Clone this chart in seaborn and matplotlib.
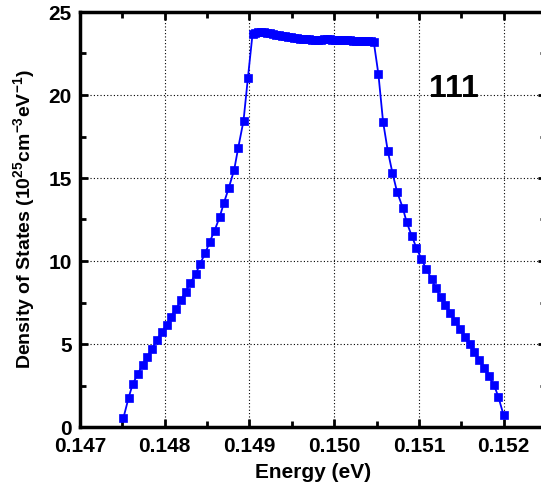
import matplotlib
matplotlib.use("Agg")
import matplotlib.pyplot as plt
import seaborn as sns
import numpy as np
import pandas as pd
from matplotlib.ticker import MultipleLocator

# ---- data ----
energy_rise = [0.147511, 0.147574, 0.147621, 0.147680, 0.147739, 0.147794, 0.147853,
               0.147908, 0.147963, 0.148022, 0.148073, 0.148136, 0.148195, 0.148246,
               0.148301, 0.148368, 0.148415, 0.148478, 0.148529, 0.148588, 0.148647,
               0.148698, 0.148757, 0.148820, 0.148867, 0.148930, 0.148981]
dos_rise = [0.52, 1.77, 2.57, 3.17, 3.75, 4.24, 4.72, 5.24, 5.70, 6.16, 6.64, 7.13,
            7.65, 8.15, 8.67, 9.23, 9.82, 10.46, 11.13, 11.83, 12.63, 13.49, 14.42,
            15.50, 16.81, 18.45, 21.0]

energy_plateau = [0.149036, 0.149070, 0.149105, 0.149140, 0.149175, 0.149210, 0.149245,
                  0.149280, 0.149315, 0.149350, 0.149385, 0.149420, 0.149455, 0.149490,
                  0.149525, 0.149560, 0.149595, 0.149630, 0.149665, 0.149700, 0.149735,
                  0.149770, 0.149805, 0.149840, 0.149875, 0.149910, 0.149945, 0.149980,
                  0.150015, 0.150050, 0.150085, 0.150120, 0.150155, 0.150190, 0.150225,
                  0.150260, 0.150295, 0.150330, 0.150365, 0.150400, 0.150435, 0.150467]
dos_plateau = [23.65, 23.76, 23.80, 23.80, 23.78, 23.75, 23.71, 23.67, 23.63, 23.60,
               23.56, 23.53, 23.50, 23.47, 23.44, 23.42, 23.40, 23.38, 23.36, 23.35,
               23.34, 23.34, 23.34, 23.34, 23.35, 23.35, 23.35, 23.34, 23.34, 23.33,
               23.32, 23.31, 23.30, 23.29, 23.28, 23.28, 23.27, 23.27, 23.26, 23.25,
               23.24, 23.21]

energy_fall = [0.150522, 0.150577, 0.150632, 0.150687, 0.150742, 0.150809, 0.150856,
               0.150915, 0.150970, 0.151029, 0.151088, 0.151151, 0.151198, 0.151260,
               0.151312, 0.151371, 0.151426, 0.151485, 0.151540, 0.151599, 0.151650,
               0.151713, 0.151768, 0.151823, 0.151886, 0.151937, 0.152000]
dos_fall = [21.25, 18.39, 16.65, 15.32, 14.17, 13.21, 12.33, 11.52, 10.80, 10.12, 9.50,
            8.92, 8.36, 7.83, 7.33, 6.87, 6.39, 5.90, 5.44, 5.00, 4.54, 4.05, 3.57,
            3.07, 2.53, 1.83, 0.70]

x_ticks = [0.147, 0.148, 0.149, 0.150, 0.151, 0.152]
x_tick_labels = ["0.147", "0.148", "0.149", "0.150", "0.151", "0.152"]
y_ticks = [0, 5, 10, 15, 20, 25]
annotation = "111"

df = pd.DataFrame({
    "Energy": energy_rise + energy_plateau + energy_fall,
    "DOS": dos_rise + dos_plateau + dos_fall,
})

# ---- style ----
sns.set_style("ticks")
plt.rcParams["font.family"] = ["Liberation Sans", "DejaVu Sans"]
plt.rcParams["font.weight"] = "bold"
plt.rcParams["text.color"] = "black"
plt.rcParams["axes.labelcolor"] = "black"
plt.rcParams["mathtext.fontset"] = "custom"
plt.rcParams["mathtext.rm"] = "Liberation Sans:bold"
plt.rcParams["mathtext.bf"] = "Liberation Sans:bold"
plt.rcParams["mathtext.default"] = "bf"

fig = plt.figure(figsize=(5.41, 4.94), dpi=100)
ax = fig.add_axes([80 / 541, 67 / 494, 466 / 541, 415 / 494])

sns.lineplot(data=df, x="Energy", y="DOS", sort=False, ax=ax, color="#0000ff",
             linewidth=1.3, marker="s", markersize=6, markeredgecolor="#0000ff",
             markeredgewidth=0.5)

ax.set_xlim(0.147, 0.1525)
ax.set_ylim(0, 25)
ax.set_xticks(x_ticks)
ax.set_xticklabels(x_tick_labels)
ax.set_yticks(y_ticks)
ax.xaxis.set_minor_locator(MultipleLocator(0.0005))
ax.yaxis.set_minor_locator(MultipleLocator(2.5))

ax.grid(True, which="major", linestyle=(0, (1, 2)), color="black", linewidth=0.8)
ax.tick_params(which="both", direction="in", top=True, right=True, width=2,
               labelsize=15, colors="black")
ax.tick_params(which="major", length=6)
ax.tick_params(which="minor", length=4)
ax.tick_params(axis="x", which="major", pad=7)
ax.tick_params(axis="y", which="major", pad=6)
for lab in ax.get_xticklabels() + ax.get_yticklabels():
    lab.set_fontweight("bold")
for s in ax.spines.values():
    s.set_linewidth(2.5)
    s.set_color("black")

ax.set_xlabel("Energy (eV)", fontsize=15, fontweight="bold", labelpad=5,
              color="black")
ax.set_ylabel(r"Density of States (10$^{25}$cm$^{-3}$eV$^{-1}$)", fontsize=14,
              fontweight="bold", color="black")
ax.yaxis.set_label_coords(-0.092, 0.5)

ax.text(0.151116, 19.9, annotation, fontsize=23, fontweight="bold", ha="left",
        va="baseline", color="black")

fig.savefig("out.png", dpi=100)
